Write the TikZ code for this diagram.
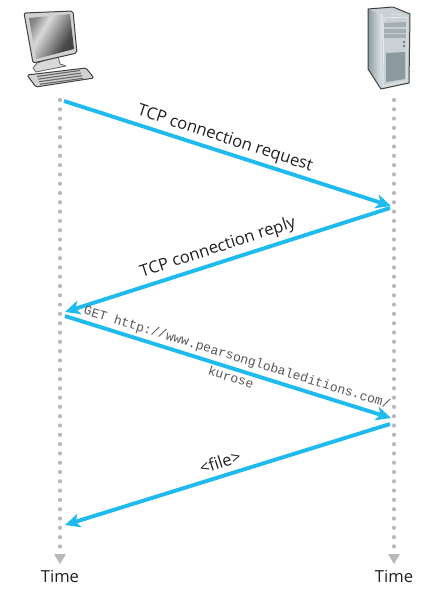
\documentclass[tikz,border=0pt]{standalone}
\usepackage{fontspec}
\setmainfont{Open Sans}
\setmonofont{Liberation Mono}
\usetikzlibrary{arrows.meta,shadings}
\definecolor{msgblue}{HTML}{1FBBEE}
\definecolor{dotgray}{HTML}{B8B9BC}
\definecolor{txt}{HTML}{231F20}
\definecolor{monotxt}{HTML}{5A5658}
\definecolor{steelA}{HTML}{8E9CA4}
\definecolor{steelB}{HTML}{E6EBED}
\definecolor{steelC}{HTML}{C9D1D5}
\definecolor{steelD}{HTML}{8C999F}
\pgfdeclareverticalshading{screenshade}{100bp}{color(0bp)=(black!80); color(32bp)=(black!72); color(62bp)=(black!15); color(75bp)=(black!45); color(100bp)=(black!70)}
\tikzset{
  msg/.style={draw=msgblue,line width=3.9pt,-{Stealth[length=15pt,width=14pt,inset=4pt]}},
  timeline/.style={draw=dotgray,line width=4.2pt,line cap=round,dash pattern=on 0pt off 9.3pt},
  timetip/.style={fill=dotgray,draw=none},
  lbl/.style={inner sep=0pt,font=\fontsize{16.6}{18}\selectfont,text=txt},
  urllbl/.style={inner sep=0pt,font=\ttfamily\fontsize{13}{14}\selectfont,text=monotxt},
  timelbl/.style={inner sep=0pt,font=\fontsize{16.6}{18}\selectfont,text=txt},
  edge/.style={draw=black!75,line width=1pt,line join=round},
  softedge/.style={draw=black!60,line width=.8pt,line join=round}
}
\begin{document}
\begin{tikzpicture}[x=1pt,y=-1pt]
\useasboundingbox (0,0) rectangle (441,592);
% computer
\fill[edge,fill=gray!35,rounded corners=1.5pt] (27,75) -- (86,68) -- (94,78) -- (36,87) -- cycle;
\foreach \d in {0,1,2,3}
  \draw[draw=black!60,line width=1.1pt] (37+\d,76.5+\d*2.6) -- (80+\d,70.5+\d*2.6);
\fill[softedge,fill=gray!30] (37,63) -- (58,56) -- (60,64) -- (66,66) -- (36,72) -- (33,68) -- cycle;
\fill[edge,fill=gray!35,rounded corners=2pt] (24,13) -- (73,11) -- (77,53) -- (33,63) -- cycle;
\shade[shading=screenshade,shading angle=60] (29,18) -- (70,14) -- (74,49) -- (36,59) -- cycle;
% server
\fill[steelC] (368,9) -- (393,7) -- (410,14) -- (383,15) -- cycle;
\shade[left color=steelA,right color=steelB] (368,9) -- (383,15) -- (381,89) -- (368,69) -- cycle;
\fill[steelC] (383,15) -- (410,14) -- (409,83) -- (381,89) -- cycle;
\draw[edge] (368,9) -- (393,7) -- (410,14) -- (409,83) -- (381,89) -- (368,69) -- cycle;
\draw[draw=steelB,line width=.8pt] (384,18) -- (407,17) -- (407,81) -- (383,86) -- cycle;
\fill[steelD!80] (384,23) -- (406,22) -- (406,27) -- (384,27) -- cycle;
\fill[steelD!80] (384,29) rectangle (406,32.5);
\fill[steelD!80] (384,34) rectangle (406,37.5);
\fill[steelD] (386,53) -- (405,52) -- (405,79) -- (386,82) -- cycle;
\fill[gray] (403,41) rectangle (405,43) (403,45) rectangle (405,47);
% time lines
\coordinate (ctop) at (60,100);
\coordinate (cend) at (60,548);
\coordinate (stop) at (394,100);
\coordinate (send) at (394,548);
\draw[timeline] (ctop) -- (cend);
\draw[timeline] (stop) -- (send);
\fill[timetip] (54,554) -- (66,554) -- (60,564) -- cycle;
\fill[timetip] (388,554) -- (400,554) -- (394,564) -- cycle;
\node[timelbl] (tc) at (60,576) {Time};
\node[timelbl] (ts) at (394,576) {Time};
% messages
\coordinate (a1) at (64,101);
\coordinate (b1) at (391,206);
\coordinate (b2) at (390,208);
\coordinate (a2) at (65,312);
\coordinate (a3) at (65,316);
\coordinate (b3) at (391,418);
\coordinate (b4) at (390,424);
\coordinate (a4) at (65,525);
\draw[msg] (a1) -- (b1);
\draw[msg] (b2) -- (a2);
\draw[msg] (a3) -- (b3);
\draw[msg] (b4) -- (a4);
% labels
\node[lbl,rotate=-18] (l1) at (225,139) {TCP connection request};
\node[lbl,rotate=18] (l2) at (218,248) {TCP connection reply};
\node[urllbl,rotate=-17.2] (l3) at (237,358) {GET http://www.pearsonglobaleditions.com/};
\node[urllbl,rotate=-17.2] (l4) at (231,377) {kurose};
\node[lbl,rotate=18] (l5) at (220,462) {<file>};
\end{tikzpicture}
\end{document}
